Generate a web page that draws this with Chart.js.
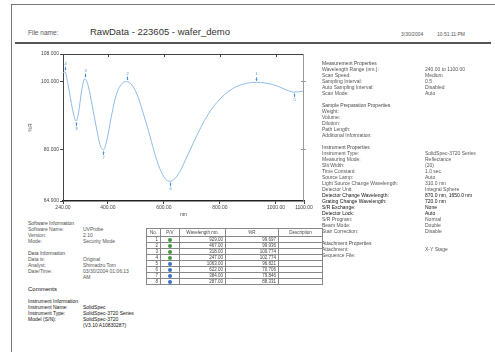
<!DOCTYPE html>
<html>
<head>
<meta charset="utf-8">
<script src="https://cdn.jsdelivr.net/npm/chart.js@4.4.0/dist/chart.umd.min.js"></script>
<style>
html, body { margin: 0; padding: 0; background: #fff; }
body { width: 495px; height: 352px; overflow: hidden; position: relative; font-family: "Liberation Sans", Arial, sans-serif; color: #555; }
#frame { position: absolute; left: 11px; top: 4px; width: 500px; height: 360px; border-left: 1px solid #777; border-top: 1px solid #777; }
#rule { position: absolute; left: 15px; top: 42px; width: 476px; height: 2px; background: #555; }
.t { position: absolute; white-space: nowrap; }
#chartBox { position: absolute; left: 14px; top: 46px; width: 320px; height: 172px; }
.panel { position: absolute; font-size: 5px; line-height: 6px; }
.panel div { height: 6px; white-space: nowrap; position: relative; }
.panel .v { position: absolute; top: 0; }
.panel .dark { color: #111; }
.panel .head { color: #444; }
#peaks { position: absolute; left: 146px; top: 228px; border-collapse: collapse; font-size: 4.5px; color: #444; border: 1px solid #555; }
#peaks td, #peaks th { border: 1px solid #888; padding: 0 2px; height: 5px; line-height: 5px; font-weight: normal; }
#peaks th { height: 7px; text-align: center; }
#peaks td.n { text-align: right; }
.dot { display: inline-block; width: 4px; height: 4px; border-radius: 50%; vertical-align: middle; }
</style>
</head>
<body>
<div id="frame"></div>
<div class="t" style="left:28px;top:29px;font-size:6.5px;color:#555;">File name:</div>
<div class="t" style="left:90px;top:26px;font-size:9.5px;color:#333;">RawData - 223605 - wafer_demo</div>
<div class="t" style="left:401px;top:31px;font-size:5px;color:#555;">3/30/2004</div>
<div class="t" style="left:437px;top:31px;font-size:5px;color:#555;">10:51:11 PM</div>
<div id="rule"></div>

<div id="chartBox"><canvas id="spec" width="320" height="172"></canvas></div>

<div class="panel" id="rightPanel" style="left:322px;top:60px;"></div>
<div class="panel" id="leftPanel" style="left:28px;top:220px;"></div>
<table id="peaks"></table>

<script>
// spectrum (wavelength nm, %R)
const wavelengths = [240, 247, 258, 270, 280, 287, 296, 306, 318, 330, 345, 360, 372, 384, 396, 412, 430, 450, 467, 485,
  505, 525, 545, 565, 585, 605, 622, 640, 660, 680, 700, 720, 745, 770, 800, 830, 860, 895, 929, 960, 990, 1020, 1045, 1063, 1080, 1100];
const reflectance = [102.4, 102.774, 99.0, 93.5, 89.6, 88.331, 91.0, 97.0, 100.774, 98.6, 92.5, 86.0, 81.5, 79.846, 82.5, 89.5,
  96.0, 99.3, 99.936, 99.0, 96.0, 91.0, 85.5, 79.5, 74.5, 71.4, 70.706, 71.5, 74.0, 77.5, 81.0, 84.5, 88.5, 91.8, 94.8, 97.0,
  98.5, 99.4, 99.697, 99.5, 99.0, 98.1, 97.2, 96.821, 96.9, 97.1];

// peak / valley table
const peakWl = [929.00, 467.00, 318.00, 247.00];
const peakR = [99.697, 99.936, 100.774, 102.774];
const valleyWl = [1063.00, 622.00, 384.00, 287.00];
const valleyR = [96.821, 70.706, 79.846, 88.331];

// axis ticks
const xTicks = [240, 400, 600, 800, 1000, 1100];
const yTicks = [64.9, 80, 100, 108];

const rightRows = [
  ['Measurement Properties', '', 'head'],
  ['Wavelength Range (nm.):', '240.00 to 1100.00'],
  ['Scan Speed:', 'Medium'],
  ['Sampling Interval:', '0.5'],
  ['Auto Sampling Interval:', 'Disabled'],
  ['Scan Mode:', 'Auto'],
  ['', ''],
  ['Sample Preparation Properties', '', 'head'],
  ['Weight:', ''],
  ['Volume:', ''],
  ['Dilution:', ''],
  ['Path Length:', ''],
  ['Additional Information:', ''],
  ['', ''],
  ['Instrument Properties', '', 'head'],
  ['Instrument Type:', 'SolidSpec-3720 Series'],
  ['Measuring Mode:', 'Reflectance'],
  ['Slit Width:', '(20)'],
  ['Time Constant:', '1.0 sec.'],
  ['Source Lamp:', 'Auto'],
  ['Light Source Change Wavelength:', '310.0 nm'],
  ['Detector Unit:', 'Integral Sphere'],
  ['Detector Change Wavelength:', '870.0 nm, 1650.0 nm', 'dark'],
  ['Grating Change Wavelength:', '720.0 nm', 'dark'],
  ['S/R Exchange:', 'None', 'dark'],
  ['Detector Lock:', 'Auto', 'dark'],
  ['S/R Program:', 'Normal'],
  ['Beam Mode:', 'Double'],
  ['Stair Correction:', 'Disable'],
  ['', ''],
  ['Attachment Properties', '', 'head'],
  ['Attachment:', 'X-Y Stage'],
  ['Sequence File:', '']
];

const leftRows = [
  ['Software Information', '', 'head'],
  ['Software Name:', 'UVProbe'],
  ['Version:', '2.10'],
  ['Mode:', 'Security Mode'],
  ['', ''],
  ['Data Information', '', 'head'],
  ['Data is:', 'Original'],
  ['Analyst:', 'Shimadzu Tom'],
  ['Date/Time:', '03/30/2004 01:06:13'],
  ['', 'AM'],
  ['', ''],
  ['Comments', '', 'dark'],
  ['', ''],
  ['Instrument Information', '', 'dark'],
  ['Instrument Name:', 'SolidSpec', 'dark'],
  ['Instrument Type:', 'SolidSpec-3720 Series', 'dark'],
  ['Model (S/N):', 'SolidSpec-3720', 'dark'],
  ['', '(V3.10 A10830287)', 'dark']
];

function fillPanel(el, rows, valueLeft) {
  rows.forEach(r => {
    const d = document.createElement('div');
    if (r[2]) d.className = r[2];
    d.textContent = r[0];
    if (r[1]) {
      const s = document.createElement('span');
      s.className = 'v';
      s.style.left = valueLeft + 'px';
      s.textContent = r[1];
      d.appendChild(s);
    }
    el.appendChild(d);
  });
}
fillPanel(document.getElementById('rightPanel'), rightRows, 103);
fillPanel(document.getElementById('leftPanel'), leftRows, 55);
document.querySelector('#leftPanel div:nth-child(12)').style.fontSize = '6px';

// table
const tbl = document.getElementById('peaks');
const widths = [13, 18, 45, 52, 43];
let html = '<tr>' + ['No.', 'P/V', 'Wavelength nm.', '%R', 'Description']
  .map((h, i) => '<th style="width:' + (widths[i] - 4) + 'px">' + h + '</th>').join('') + '</tr>';
const tableRows = peakWl.map((w, i) => [w, peakR[i], '#3f9a3f'])
  .concat(valleyWl.map((w, i) => [w, valleyR[i], '#3a72c8']));
tableRows.forEach((r, i) => {
  html += '<tr><td class="n">' + (i + 1) + '</td><td style="text-align:center"><span class="dot" style="background:' + r[2] +
    '"></span></td><td class="n">' + r[0].toFixed(2) + '</td><td class="n">' + r[1].toFixed(3) + '</td><td></td></tr>';
});
tbl.innerHTML = html;

const framePlugin = {
  id: 'frame',
  afterDatasetsDraw(chart) {
    const { ctx, chartArea: a, scales: { x, y } } = chart;
    ctx.save();
    ctx.lineWidth = 1;
    ctx.strokeStyle = '#444';
    ctx.beginPath();
    ctx.moveTo(a.left, a.top + 0.5); ctx.lineTo(a.right, a.top + 0.5);
    xTicks.slice(1, -1).forEach(v => {
      const px = Math.round(x.getPixelForValue(v)) + 0.5;
      ctx.moveTo(px, a.top); ctx.lineTo(px, a.top + 3);
    });
    ctx.stroke();
    ctx.strokeStyle = '#999';
    ctx.beginPath();
    ctx.moveTo(a.right - 0.5, a.top); ctx.lineTo(a.right - 0.5, a.bottom);
    yTicks.slice(1, -1).forEach(v => {
      const py = Math.round(y.getPixelForValue(v)) + 0.5;
      ctx.moveTo(a.right - 3, py); ctx.lineTo(a.right + 2, py);
    });
    ctx.stroke();

    // peak / valley markers
    ctx.strokeStyle = '#4a8fd8';
    ctx.fillStyle = '#4a8fd8';
    ctx.font = '4px "Liberation Sans", Arial';
    ctx.textAlign = 'center';
    ctx.textBaseline = 'middle';
    const mark = (w, r, n, dir) => {
      const px = Math.round(x.getPixelForValue(w)) + 0.5;
      const py = y.getPixelForValue(r);
      ctx.beginPath();
      ctx.moveTo(px, py + dir * 1.5); ctx.lineTo(px, py + dir * 5);
      ctx.stroke();
      ctx.beginPath();
      ctx.moveTo(px, py + dir * 1.5); ctx.lineTo(px - 1.2, py + dir * 3); ctx.lineTo(px + 1.2, py + dir * 3);
      ctx.closePath(); ctx.fill();
      ctx.fillText(String(n), px, py + dir * 8);
    };
    peakWl.forEach((w, i) => mark(w, peakR[i], i + 1, -1));
    valleyWl.forEach((w, i) => mark(w, valleyR[i], i + 1 + peakWl.length, 1));
    ctx.restore();
  }
};

new Chart(document.getElementById('spec'), {
  type: 'line',
  data: {
    datasets: [{
      label: '%R',
      data: wavelengths.map((w, i) => ({ x: w, y: reflectance[i] })),
      borderColor: '#8dbbe8',
      borderWidth: 1,
      pointRadius: 0,
      cubicInterpolationMode: 'monotone',
      fill: false
    }]
  },
  options: {
    animation: false,
    responsive: false,
    layout: { padding: { top: 8, right: 30, bottom: 0, left: 0 } },
    plugins: { legend: { display: false }, tooltip: { enabled: false } },
    scales: {
      x: {
        type: 'linear',
        min: 240,
        max: 1100,
        afterBuildTicks: s => { s.ticks = xTicks.map(v => ({ value: v })); },
        afterFit: s => { s.height = 17; },
        ticks: { autoSkip: false, maxRotation: 0, minRotation: 0, padding: 1, color: '#444',
          font: { size: 5, family: '"Liberation Sans", Arial' }, callback: v => Number(v).toFixed(2) },
        grid: { drawOnChartArea: false, tickLength: 3, color: '#444' },
        border: { color: '#222', width: 1.5 },
        title: { display: true, text: 'nm', color: '#444', font: { size: 5, family: '"Liberation Sans", Arial' }, padding: { top: 2, bottom: 0 } }
      },
      y: {
        type: 'linear',
        min: 64.9,
        max: 108,
        afterBuildTicks: s => { s.ticks = yTicks.map(v => ({ value: v })); },
        afterFit: s => { s.width = 49; },
        ticks: { autoSkip: false, padding: 1, color: '#444',
          font: { size: 5, family: '"Liberation Sans", Arial' }, callback: v => Number(v).toFixed(3) },
        grid: { drawOnChartArea: false, tickLength: 3, color: '#444' },
        border: { color: '#444', width: 1 },
        title: { display: true, text: '%R', color: '#444', font: { size: 5, family: '"Liberation Sans", Arial' }, padding: { top: 14, bottom: 0 } }
      }
    }
  },
  plugins: [framePlugin]
});
</script>
</body>
</html>
